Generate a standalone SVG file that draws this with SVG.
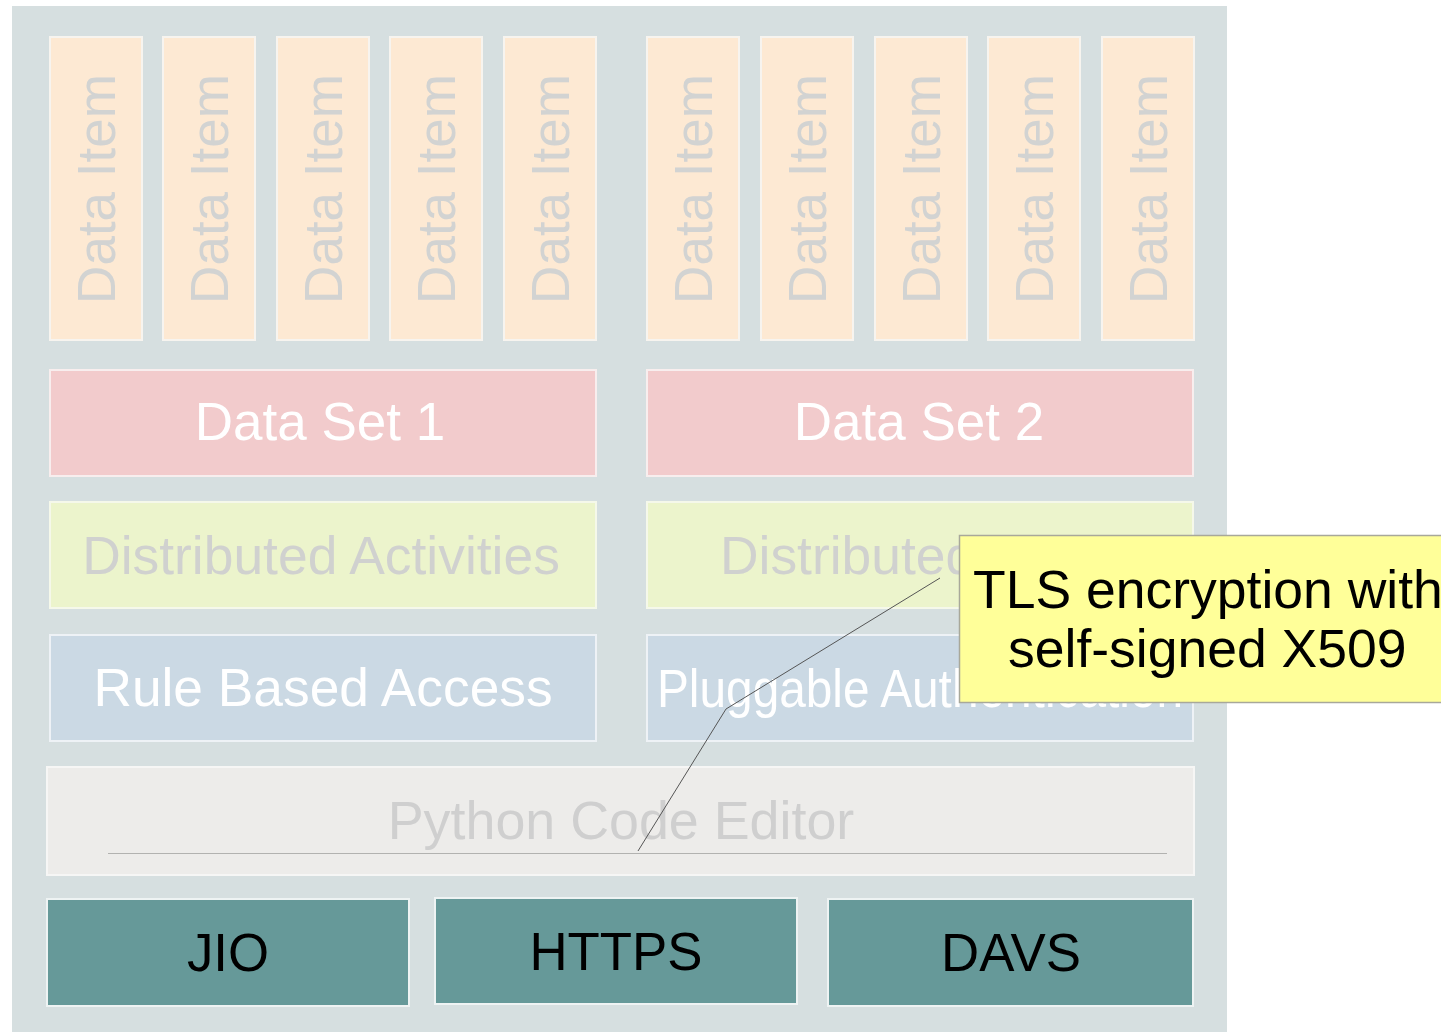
<svg xmlns="http://www.w3.org/2000/svg" width="1441" height="1032" viewBox="0 0 1441 1032">
<style>
text{font-family:"Liberation Sans",Arial,sans-serif;}
.item rect{fill:#fde9d3;stroke:#f7f4ef;stroke-width:2}
.item text{fill:#d2d3d2;font-size:53px;text-anchor:middle}
.set rect{fill:#f2cbcc;stroke:#f8eeee;stroke-width:2}
.set text{fill:#ffffff;font-size:53px;text-anchor:middle}
.dist rect{fill:#ecf4cc;stroke:#f5f8ea;stroke-width:2}
.dist text{fill:#d0d1cf;font-size:53.4px}
.auth rect{fill:#cbd9e4;stroke:#eef2f6;stroke-width:2}
.auth text{fill:#ffffff;font-size:53.3px}
.py rect{fill:#edecea;stroke:#f6f6f5;stroke-width:2}
.py text{fill:#cfcfcf;font-size:53.8px;text-anchor:middle}
.proto rect{fill:#669999;stroke:#eef3f3;stroke-width:2}
.proto text{fill:#000000;font-size:52.8px;text-anchor:middle}
.callout rect{fill:#ffff99;stroke:#a8a89a;stroke-width:1.5}
.callout text{fill:#000000;font-size:53.5px}
</style>
<rect x="0" y="0" width="1441" height="1032" fill="#ffffff"/>
<rect id="panel" x="12" y="6" width="1215" height="1030" fill="#d6dfe0"/>

<g id="item1" class="item"><rect x="50" y="37" width="92" height="303"/><text transform="translate(96,189) rotate(-90)" y="19">Data Item</text></g>
<g id="item2" class="item"><rect x="163" y="37" width="92" height="303"/><text transform="translate(209,189) rotate(-90)" y="19">Data Item</text></g>
<g id="item3" class="item"><rect x="277" y="37" width="92" height="303"/><text transform="translate(323,189) rotate(-90)" y="19">Data Item</text></g>
<g id="item4" class="item"><rect x="390" y="37" width="92" height="303"/><text transform="translate(436,189) rotate(-90)" y="19">Data Item</text></g>
<g id="item5" class="item"><rect x="504" y="37" width="92" height="303"/><text transform="translate(550,189) rotate(-90)" y="19">Data Item</text></g>
<g id="item6" class="item"><rect x="647" y="37" width="92" height="303"/><text transform="translate(693,189) rotate(-90)" y="19">Data Item</text></g>
<g id="item7" class="item"><rect x="761" y="37" width="92" height="303"/><text transform="translate(807,189) rotate(-90)" y="19">Data Item</text></g>
<g id="item8" class="item"><rect x="875" y="37" width="92" height="303"/><text transform="translate(921,189) rotate(-90)" y="19">Data Item</text></g>
<g id="item9" class="item"><rect x="988" y="37" width="92" height="303"/><text transform="translate(1034,189) rotate(-90)" y="19">Data Item</text></g>
<g id="item10" class="item"><rect x="1102" y="37" width="92" height="303"/><text transform="translate(1148,189) rotate(-90)" y="19">Data Item</text></g>

<g id="dataset1" class="set"><rect x="50" y="370" width="546" height="106"/><text x="320" y="440">Data Set 1</text></g>
<g id="dataset2" class="set"><rect x="647" y="370" width="546" height="106"/><text x="919" y="440">Data Set 2</text></g>

<g id="distact" class="dist"><rect x="50" y="502" width="546" height="106"/><text x="321" y="574" text-anchor="middle">Distributed Activities</text></g>
<g id="distcache" class="dist"><rect x="647" y="502" width="546" height="106"/><text x="720" y="574">Distributed</text></g>

<g id="rule" class="auth"><rect x="50" y="635" width="546" height="106"/><text x="323" y="706" text-anchor="middle">Rule Based Access</text></g>
<g id="pluggable" class="auth"><rect x="647" y="635" width="546" height="106"/><text x="657" y="707" textLength="526" lengthAdjust="spacingAndGlyphs" font-size="50">Pluggable Authentication</text></g>

<g id="python" class="py"><rect x="47" y="767" width="1147" height="108"/><text x="621" y="839">Python Code Editor</text><line x1="108" y1="853.5" x2="1167" y2="853.5" stroke="#b2b2b0" stroke-width="1.2"/></g>

<g id="jio" class="proto"><rect x="47" y="899" width="362" height="107"/><text x="228" y="971">JIO</text></g>
<g id="https" class="proto"><rect x="435" y="898" width="362" height="106"/><text x="616" y="970">HTTPS</text></g>
<g id="davs" class="proto"><rect x="828" y="899" width="365" height="107"/><text x="1011" y="971">DAVS</text></g>

<g id="connectors"><polyline points="940,578 726,709 638,851" fill="none" stroke="#555555" stroke-width="1"/></g>

<g id="callout" class="callout"><rect x="959.5" y="535.5" width="500" height="167"/><text x="973" y="608">TLS encryption with</text><text x="1008" y="667">self-signed X509</text></g>
</svg>
